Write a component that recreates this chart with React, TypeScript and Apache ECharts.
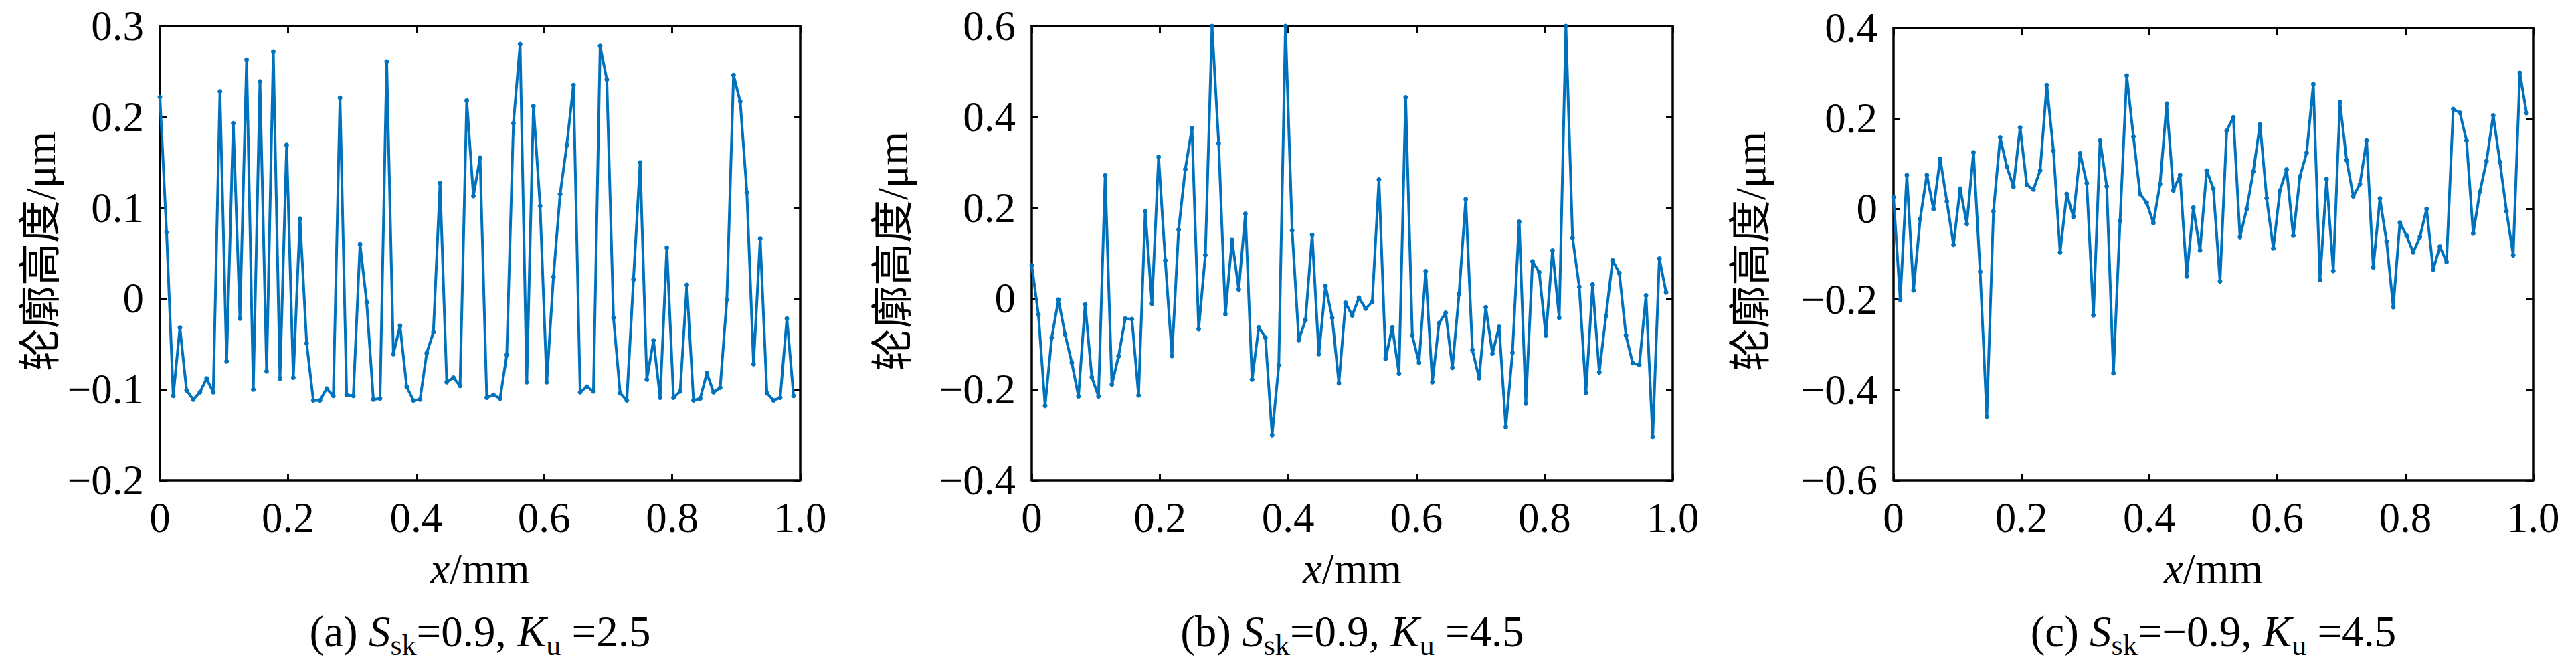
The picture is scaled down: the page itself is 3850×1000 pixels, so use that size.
import React, { useEffect, useRef } from "react";
import * as echarts from "echarts";

// sampling step along x (mm)
const DX = 1 / 96;

const seriesA = [
  0.222, 0.073, -0.107, -0.032, -0.101, -0.111, -0.103, -0.088, -0.103, 0.228,
  -0.069, 0.193, -0.022, 0.263, -0.1, 0.239, -0.08, 0.272, -0.088, 0.169,
  -0.087, 0.088, -0.049, -0.112, -0.112, -0.099, -0.107, 0.221, -0.106, -0.107,
  0.06, -0.004, -0.111, -0.11, 0.261, -0.061, -0.03, -0.097, -0.112, -0.111,
  -0.06, -0.037, 0.127, -0.092, -0.087, -0.096, 0.218, 0.113, 0.155, -0.109,
  -0.106, -0.11, -0.062, 0.193, 0.28, -0.092, 0.212, 0.102, -0.092, 0.024,
  0.115, 0.169, 0.235, -0.103, -0.097, -0.102, 0.278, 0.241, -0.021, -0.104,
  -0.112, 0.021, 0.15, -0.089, -0.046, -0.109, 0.056, -0.109, -0.102, 0.015,
  -0.112, -0.11, -0.082, -0.103, -0.098, -0.001, 0.246, 0.217, 0.117, -0.072,
  0.066, -0.104, -0.112, -0.109, -0.022, -0.107,
];

const seriesB = [
  0.073, -0.035, -0.236, -0.086, -0.002, -0.079, -0.141, -0.215, -0.013, -0.173,
  -0.215, 0.271, -0.189, -0.127, -0.044, -0.045, -0.213, 0.192, -0.011, 0.312,
  0.084, -0.126, 0.152, 0.285, 0.375, -0.067, 0.096, 0.6, 0.342, -0.034,
  0.129, 0.02, 0.187, -0.178, -0.063, -0.086, -0.3, -0.147, 0.6, 0.15,
  -0.091, -0.047, 0.14, -0.122, 0.028, -0.042, -0.186, -0.009, -0.037, 0.002,
  -0.022, -0.007, 0.262, -0.132, -0.063, -0.165, 0.443, -0.081, -0.141, 0.06,
  -0.184, -0.054, -0.031, -0.152, 0.01, 0.219, -0.113, -0.175, -0.019, -0.121,
  -0.062, -0.283, -0.119, 0.169, -0.231, 0.082, 0.058, -0.081, 0.106, -0.042,
  0.6, 0.134, 0.026, -0.207, 0.031, -0.162, -0.038, 0.084, 0.056, -0.081,
  -0.142, -0.146, 0.007, -0.304, 0.088, 0.014,
];

const seriesC = [
  0.026, -0.201, 0.075, -0.18, -0.022, 0.075, 0.0, 0.111, 0.017, -0.079,
  0.045, -0.033, 0.125, -0.139, -0.459, -0.005, 0.158, 0.094, 0.049, 0.18,
  0.053, 0.043, 0.085, 0.274, 0.129, -0.096, 0.033, -0.017, 0.123, 0.057,
  -0.235, 0.151, 0.05, -0.363, -0.026, 0.295, 0.16, 0.033, 0.014, -0.031,
  0.055, 0.233, 0.041, 0.075, -0.149, 0.003, -0.091, 0.085, 0.045, -0.16,
  0.173, 0.203, -0.062, 0.0, 0.083, 0.187, 0.024, -0.087, 0.041, 0.087,
  -0.059, 0.072, 0.124, 0.276, -0.157, 0.066, -0.137, 0.236, 0.108, 0.028,
  0.055, 0.151, -0.129, 0.023, -0.072, -0.217, -0.03, -0.059, -0.096, -0.062,
  0.0, -0.134, -0.083, -0.117, 0.221, 0.213, 0.151, -0.054, 0.038, 0.106,
  0.207, 0.104, -0.005, -0.102, 0.301, 0.212,
];

const yRanges = [
  { min: -0.2, max: 0.3, interval: 0.1 },
  { min: -0.4, max: 0.6, interval: 0.2 },
  { min: -0.6, max: 0.4, interval: 0.2 },
];

const xTicks = { min: 0, max: 1, interval: 0.2 };

const captions = [
  "{n|(a) }{i|S}{s|sk}{n|=0.9, }{i|K}{s|u}{n| =2.5}",
  "{n|(b) }{i|S}{s|sk}{n|=0.9, }{i|K}{s|u}{n| =4.5}",
  "{n|(c) }{i|S}{s|sk}{n|=\u22120.9, }{i|K}{s|u}{n| =4.5}",
];

const yName = "轮廓高度/μm";

const grids = [
  { left: 239, top: 39, width: 957, height: 679, yNameX: 60 },
  { left: 1542, top: 39, width: 958, height: 679, yNameX: 1334 },
  { left: 2830, top: 42, width: 956, height: 676, yNameX: 2616 },
];

const SERIF = '"Liberation Serif", "Times New Roman", serif';
const BLUE = "#0072BD";

function fmt(v: number): string {
  if (Math.abs(v) < 1e-9) return "0";
  return v.toFixed(1).replace("-", "\u2212");
}

export default function App() {
  const ref = useRef<HTMLDivElement>(null);

  useEffect(() => {
    if (!ref.current) return;
    const chart = echarts.init(ref.current, null, { renderer: "svg" });
    const datasets = [seriesA, seriesB, seriesC];

    const axisLine = { show: true, onZero: false, lineStyle: { color: "#000", width: 3.5 } };
    const axisTick = { show: true, inside: true, length: 10, lineStyle: { color: "#000", width: 3 } };
    const axisLabel = {
      show: true,
      fontFamily: SERIF,
      fontSize: 63,
      color: "#000",
      margin: 24,
      formatter: (v: number) => fmt(v),
    };

    const xAxis: any[] = [];
    const yAxis: any[] = [];
    const series: any[] = [];
    const graphic: any[] = [];

    grids.forEach((g, p) => {
      const yr = yRanges[p];
      xAxis.push({
        type: "value", gridIndex: p, position: "bottom",
        min: xTicks.min, max: xTicks.max, interval: xTicks.interval,
        axisLine, axisTick, axisLabel, splitLine: { show: false },
      });
      xAxis.push({
        type: "value", gridIndex: p, position: "top",
        min: xTicks.min, max: xTicks.max, interval: xTicks.interval,
        axisLine, axisTick, axisLabel: { show: false }, splitLine: { show: false },
      });
      yAxis.push({
        type: "value", gridIndex: p, position: "left",
        min: yr.min, max: yr.max, interval: yr.interval,
        axisLine, axisTick, axisLabel, splitLine: { show: false },
      });
      yAxis.push({
        type: "value", gridIndex: p, position: "right",
        min: yr.min, max: yr.max, interval: yr.interval,
        axisLine, axisTick, axisLabel: { show: false }, splitLine: { show: false },
      });
      series.push({
        type: "line",
        xAxisIndex: 2 * p,
        yAxisIndex: 2 * p,
        data: datasets[p].map((v, i) => [i * DX, v]),
        symbol: "circle",
        symbolSize: 7,
        showSymbol: true,
        showAllSymbol: true,
        lineStyle: { color: BLUE, width: 4 },
        itemStyle: { color: BLUE },
        clip: true,
      });

      const cx = g.left + g.width / 2;
      graphic.push({
        type: "text",
        x: g.yNameX,
        y: 376,
        rotation: Math.PI / 2,
        style: {
          text: yName,
          fontFamily: '"Liberation Serif", "Noto Sans CJK SC", serif',
          fontSize: 64,
          fill: "#000",
          align: "center",
          verticalAlign: "middle",
        },
      });
      graphic.push({
        type: "text",
        x: cx,
        y: 850,
        style: {
          text: "{i|x}{n|/mm}",
          align: "center",
          verticalAlign: "middle",
          rich: {
            i: { fontFamily: SERIF, fontStyle: "italic", fontSize: 65, fill: "#000" },
            n: { fontFamily: SERIF, fontSize: 65, fill: "#000" },
          },
        },
      });
      graphic.push({
        type: "text",
        x: cx,
        y: 944,
        style: {
          text: captions[p],
          align: "center",
          verticalAlign: "middle",
          rich: {
            n: { fontFamily: SERIF, fontSize: 65, lineHeight: 84, fill: "#000" },
            i: { fontFamily: SERIF, fontStyle: "italic", fontSize: 65, lineHeight: 84, fill: "#000" },
            s: { fontFamily: SERIF, fontSize: 44, lineHeight: 40, verticalAlign: "bottom", fill: "#000" },
          },
        },
      });
    });

    chart.setOption({
      animation: false,
      backgroundColor: "#fff",
      grid: grids.map((g) => ({
        left: g.left, top: g.top, width: g.width, height: g.height,
        containLabel: false, outerBoundsMode: "none",
      })),
      xAxis,
      yAxis,
      series,
      graphic,
    });

    return () => chart.dispose();
  }, []);

  return (
    <div
      ref={ref}
      style={{ position: "absolute", left: 0, top: 0, width: 3850, height: 1000, background: "#fff" }}
    />
  );
}
